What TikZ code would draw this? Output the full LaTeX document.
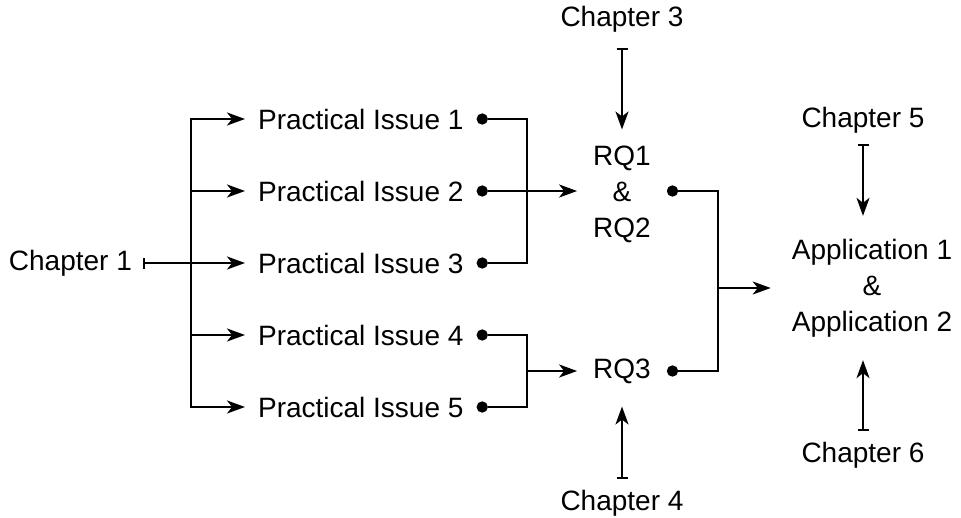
\documentclass[tikz,border=0pt]{standalone}
\usepackage{fontspec}
\setmainfont{Liberation Sans}
\usetikzlibrary{
	calc,
	arrows.meta,
	positioning
	}
\tikzstyle{txt}=[font={\fontsize{28}{36}\selectfont}, inner sep=0pt]
\tikzstyle{issue}=[txt, anchor=west, inner xsep=12pt]
\tikzstyle{chap}=[txt, inner sep=10pt]
\tikzstyle{target}=[txt, align=center, inner xsep=15pt, inner ysep=22pt]
\tikzstyle{dot}=[draw, fill=black, circle, inner sep=0pt, minimum size=9pt]
\tikzstyle{arr}=[-{Stealth[length=18pt,width=13pt,inset=5pt]}]
\tikzstyle{feed}=[{Bar[width=11pt]}-{Stealth[length=18pt,width=13pt,inset=5pt]}]

\begin{document}
\begin{tikzpicture}[x=1pt, y=-1pt, line width=2.2pt]
            \useasboundingbox (0,0) rectangle (961,517);
            % practical issues
            \foreach \i/\y in {1/119, 2/191, 3/263, 4/335, 5/407} {
               \node[issue] (p\i) at (245,\y) {Practical Issue \i};
               \node[dot, right=0pt of p\i] (d\i) {};
            }
            \node[chap, left=102pt of p3] (c1) {Chapter 1};
            %
            \node[target] (rq12) at (622,194) {RQ1\\\&\\RQ2};
            \node[target] (rq3) at (622,371) {RQ3};
            \node[dot, anchor=west] (d6) at (rq12.east |- d2) {};
            \node[dot, right=0pt of rq3] (d7) {};
            \node[target, inner xsep=20pt] (app) at (872,288) {Application 1\\\&\\Application 2};
            %
            \node[chap] (c3) at (622,19) {Chapter 3};
            \node[chap] (c4) at (622,503) {Chapter 4};
            \node[chap] (c5) at (863,120) {Chapter 5};
            \node[chap] (c6) at (863,455) {Chapter 6};

            % trunk from chapter 1
            \coordinate (tr) at (191,0);
            \draw[arr] (tr |- p5.west) -- (tr |- p1.west) -- (p1);
            \draw[arr] (tr |- p1.west) -- (tr |- p5.west) -- (p5);
            \foreach \i in {2,4} \draw[arr] (tr |- p\i.west) -- (p\i);
            \draw[feed] (c1) -- (p3);

            % issues to RQs
            \coordinate (br) at (527,0);
            \draw (d1) -- (br |- d1) -- (br |- d3) -- (d3);
            \draw[arr] (d2) -- (d2 -| rq12.west);
            \draw (d4) -- (br |- d4) -- (br |- d5) -- (d5);
            \draw[arr] (br |- rq3) -- (rq3);

            % RQs to applications
            \coordinate (bb) at (718,0);
            \draw (d6) -- (bb |- d6) -- (bb |- d7) -- (d7);
            \draw[arr] (bb |- app) -- (app);

            \draw[feed, shorten <=5pt, shorten >=-7pt] (c3) -- (rq12);
            \draw[feed] (c4) -- (rq3);
            \draw[feed] (c5) -- (c5 |- app.north);
            \draw[feed] (c6) -- (c6 |- app.south);
        \end{tikzpicture}
\end{document}
